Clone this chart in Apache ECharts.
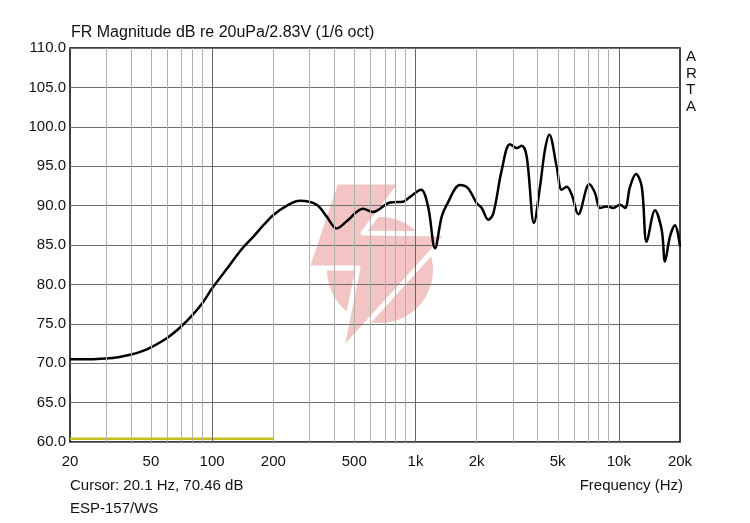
<!DOCTYPE html>
<html>
<head>
<meta charset="utf-8">
<script src="https://cdn.jsdelivr.net/npm/echarts@6/dist/echarts.min.js"></script>
<style>
html,body{margin:0;padding:0;background:#fff;}
#chart{width:750px;height:523px;}
</style>
</head>
<body>
<div id="chart"></div>
<script>
// ---- data ----
const freqs = [20, 25, 30, 35, 40, 45, 50, 60, 70, 80, 90, 100, 120, 140, 160, 180, 200, 230, 270, 327, 366, 410, 459, 552, 618, 750, 869, 940, 1065, 1153, 1248, 1346, 1425, 1656, 1813, 2001, 2118, 2282, 2415, 2656, 2917, 3148, 3331, 3526, 3828, 4098, 4336, 4553, 4951, 5240, 5545, 5868, 6324, 7161, 7640, 8084, 8722, 9397, 10140, 10730, 11360, 12150, 12970, 13720, 15070, 16260, 16880, 17860, 18900, 20000];
const magDb = [70.5, 70.5, 70.6, 70.8, 71.1, 71.5, 72.0, 73.2, 74.6, 76.1, 77.7, 79.5, 82.2, 84.5, 86.1, 87.6, 88.8, 89.9, 90.6, 90.1, 88.6, 87.1, 88.0, 89.6, 89.2, 90.4, 90.5, 91.1, 92.0, 89.9, 84.6, 88.6, 90.1, 92.6, 92.2, 90.3, 89.7, 88.2, 89.0, 94.5, 97.8, 97.3, 97.6, 96.2, 87.8, 92.4, 97.1, 99.0, 94.9, 92.0, 92.4, 91.4, 88.9, 92.7, 91.6, 89.7, 89.9, 89.7, 90.1, 89.7, 92.4, 94.0, 92.4, 85.4, 89.4, 86.9, 82.9, 86.1, 87.5, 84.8];
const cursorFreqs = [20, 200];
const cursorDb = [60.4, 60.4];
const xTickValues = [20, 50, 100, 200, 500, 1000, 2000, 5000, 10000, 20000];
const xTickLabels = ['20', '50', '100', '200', '500', '1k', '2k', '5k', '10k', '20k'];
const minorGridFreqs = [30, 40, 50, 60, 70, 80, 90, 200, 300, 400, 500, 600, 700, 800, 900, 2000, 3000, 4000, 5000, 6000, 7000, 8000, 9000];
const majorGridFreqs = [100, 1000, 10000];
const yMin = 60, yMax = 110, yStep = 5;

const L = Math.log10;
const chart = echarts.init(document.getElementById('chart'));
const FONT = 'Liberation Sans, Arial, sans-serif';
const PINK = '#f3c4c4';

const option = {
  animation: false,
  backgroundColor: '#fff',
  title: {
    text: 'FR Magnitude dB re 20uPa/2.83V (1/6 oct)',
    left: 71, top: 25, padding: 0,
    textStyle: { fontFamily: FONT, fontSize: 16, fontWeight: 'normal', color: '#111' }
  },
  grid: { left: 70, right: 70, top: 48, bottom: 81, show: true, borderColor: '#000', borderWidth: 1.5, backgroundColor: 'transparent' },
  xAxis: {
    type: 'value', min: L(20), max: L(20000),
    axisLine: { show: false }, axisTick: { show: false }, splitLine: { show: false },
    axisLabel: {
      customValues: xTickValues.map(L),
      margin: 12,
      fontFamily: FONT, fontSize: 15, color: '#111',
      formatter: function (v) {
        let best = 0, bd = 1e9;
        xTickValues.forEach((t, i) => { const d = Math.abs(L(t) - v); if (d < bd) { bd = d; best = i; } });
        return xTickLabels[best];
      }
    }
  },
  yAxis: {
    type: 'value', min: yMin, max: yMax, interval: yStep,
    axisLine: { show: false }, axisTick: { show: false },
    splitLine: { show: true, lineStyle: { color: '#6e6e6e', width: 1 } },
    axisLabel: { fontFamily: FONT, fontSize: 15, color: '#111', margin: 4, formatter: v => v.toFixed(1) }
  },
  graphic: [
    { type: 'circle', z: -20, shape: { cx: 380, cy: 270, r: 53 }, style: { fill: PINK } },
    { type: 'polygon', z: -19, shape: { points: [[336,182],[402,182],[363,233],[448,234],[341,352],[358,268],[307,268]] },
      style: { fill: PINK, stroke: '#ffffff', lineWidth: 5, lineJoin: 'round' } },
    { type: 'text', left: 686, top: 49, z: 10, style: { text: 'A\nR\nT\nA', font: '15px ' + FONT, fill: '#111', lineHeight: 16.5 } },
    { type: 'text', left: 70, top: 478, style: { text: 'Cursor: 20.1 Hz, 70.46 dB', font: '15px ' + FONT, fill: '#111' } },
    { type: 'text', left: 70, top: 501, style: { text: 'ESP-157/WS', font: '15px ' + FONT, fill: '#111' } },
    { type: 'text', right: 67, top: 478, style: { text: 'Frequency (Hz)', font: '15px ' + FONT, fill: '#111' } }
  ],
  series: [
    {
      type: 'line', z: 1, silent: true, data: [], symbol: 'none',
      markLine: {
        silent: true, symbol: 'none', label: { show: false }, animation: false,
        data: minorGridFreqs.map(f => ({ xAxis: L(f), lineStyle: { color: '#b0b0b0', width: 1, type: 'solid' } }))
          .concat(majorGridFreqs.map(f => ({ xAxis: L(f), lineStyle: { color: '#666666', width: 1, type: 'solid' } })))
      }
    },
    {
      type: 'line', z: 3, symbol: 'none', silent: true,
      lineStyle: { color: '#c4bf1c', width: 2.5 },
      data: cursorFreqs.map((f, i) => [L(f), cursorDb[i]])
    },
    {
      type: 'line', z: 4, symbol: 'none', silent: true, smooth: 0.35,
      lineStyle: { color: '#000', width: 2.5 },
      data: freqs.map((f, i) => [L(f), magDb[i]])
    }
  ]
};
chart.setOption(option);
</script>
</body>
</html>
